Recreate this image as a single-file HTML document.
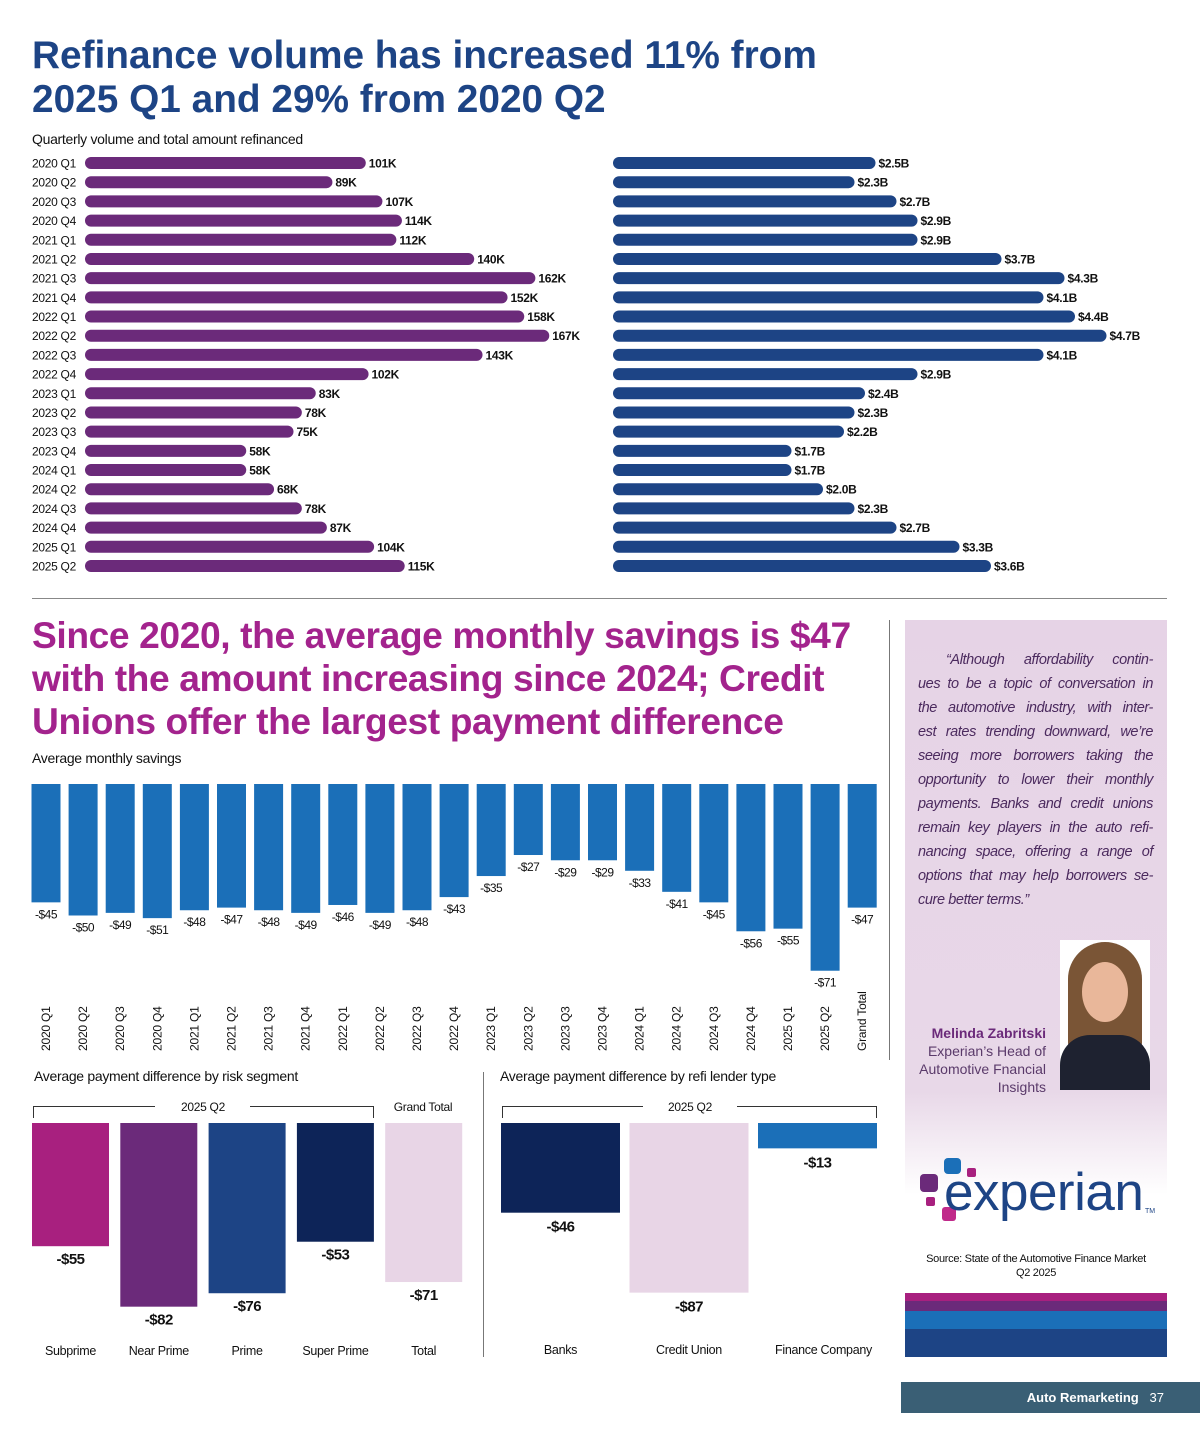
<!DOCTYPE html>
<html><head><meta charset="utf-8">
<style>
html,body{margin:0;padding:0;background:#fff;}
body{width:1200px;height:1438px;position:relative;overflow:hidden;font-family:"Liberation Sans",sans-serif;}
.abs{position:absolute;}
h1{margin:0;position:absolute;font-weight:bold;}
.ql{text-align:justify;text-align-last:justify;height:24px;white-space:nowrap;}
</style></head><body>
<h1 style="left:32px;top:34px;font-size:38.8px;line-height:44px;color:#1d4485;letter-spacing:0px">Refinance volume has increased 11% from<br>2025 Q1 and 29% from 2020 Q2</h1>
<div class="abs" style="left:32px;top:131px;font-size:14px;color:#111;letter-spacing:-0.3px">Quarterly volume and total amount refinanced</div>
<div class="abs" style="left:32px;top:598px;width:1135px;height:1px;background:#888"></div>
<h1 style="left:32px;top:614px;font-size:37.2px;line-height:43px;color:#a3238d;letter-spacing:-0.4px">Since 2020, the average monthly savings is $47<br>with the amount increasing since 2024; Credit<br>Unions offer the largest payment difference</h1>
<div class="abs" style="left:889px;top:620px;width:1px;height:440px;background:#777"></div>
<div class="abs" style="left:32px;top:750px;font-size:14px;color:#111;letter-spacing:-0.3px">Average monthly savings</div>
<div class="abs" style="left:34px;top:1068px;font-size:14px;color:#111;letter-spacing:-0.3px">Average payment difference by risk segment</div>
<div class="abs" style="left:500px;top:1068px;font-size:14px;color:#111;letter-spacing:-0.3px">Average payment difference by refi lender type</div>
<div class="abs" style="left:483px;top:1072px;width:1px;height:285px;background:#777"></div>

<div class="abs" style="left:905px;top:620px;width:262px;height:737px;background:linear-gradient(#e6d3e6 0%,#e8d8e8 64%,#fff 78%,#fff 100%);"></div>
<div class="abs" style="left:918px;top:648px;width:235px;font-size:14.5px;line-height:24px;font-style:italic;color:#4b2a5e;letter-spacing:-0.4px">
<div class="ql" style="padding-left:28px">“Although affordability contin-</div>
<div class="ql">ues to be a topic of conversation in</div>
<div class="ql">the automotive industry, with inter-</div>
<div class="ql">est rates trending downward, we’re</div>
<div class="ql">seeing more borrowers taking the</div>
<div class="ql">opportunity to lower their monthly</div>
<div class="ql">payments. Banks and credit unions</div>
<div class="ql">remain key players in the auto refi-</div>
<div class="ql">nancing space, offering a range of</div>
<div class="ql">options that may help borrowers se-</div>
<div style="height:24px">cure better terms.”</div>
</div>
<div class="abs" style="left:1060px;top:940px;width:90px;height:150px;background:#fff;overflow:hidden">
 <div style="position:absolute;left:8px;top:2px;width:74px;height:110px;border-radius:40px 40px 10px 10px;background:#7a5536"></div>
 <div style="position:absolute;left:22px;top:22px;width:46px;height:60px;border-radius:50%;background:#e9b79a"></div>
 <div style="position:absolute;left:0;top:95px;width:90px;height:60px;border-radius:30px 30px 0 0;background:#1e2230"></div>
</div>
<div class="abs" style="left:905px;top:1024px;width:141px;text-align:right;font-size:14px;line-height:18px;color:#5a3a6a;"><b style="color:#6b2a7a">Melinda Zabritski</b><br>Experian’s Head of Automotive Fnancial Insights</div>
<div class="abs" style="left:918px;top:1158px;width:240px;height:70px;">
 <div style="position:absolute;left:26px;top:0;width:17px;height:16px;border-radius:4px;background:#1b6fb8"></div>
 <div style="position:absolute;left:49px;top:10px;width:9px;height:9px;border-radius:2px;background:#a8207f"></div>
 <div style="position:absolute;left:2px;top:16px;width:18px;height:18px;border-radius:4px;background:#6b2a7a"></div>
 <div style="position:absolute;left:8px;top:39px;width:9px;height:9px;border-radius:2px;background:#a8207f"></div>
 <div style="position:absolute;left:24px;top:49px;width:14px;height:14px;border-radius:3px;background:#c02a8a"></div>
 <div style="position:absolute;left:26px;top:8px;font-size:53px;line-height:53px;color:#1d4485;letter-spacing:-0.5px">experian</div>
 <div style="position:absolute;left:227px;top:50px;font-size:7px;color:#1d4485">TM</div>
</div>
<div class="abs" style="left:905px;top:1252px;width:262px;text-align:center;font-size:11px;line-height:14px;color:#111;letter-spacing:-0.3px">Source: State of the Automotive Finance Market<br>Q2 2025</div>
<div class="abs" style="left:905px;top:1293px;width:262px;height:64px;background:linear-gradient(#a8207f 0 8px,#6b2a7a 8px 18px,#1b6fb8 18px 36px,#1d4485 36px 64px)"></div>
<div class="abs" style="left:901px;top:1382px;width:299px;height:31px;background:#3a5f75;color:#fff;font-size:13px;line-height:31px;text-align:right;font-weight:bold;box-sizing:border-box;padding-right:36px">Auto Remarketing &nbsp;&nbsp;<span style="font-weight:normal">37</span></div>

<svg id="chart" class="abs" style="left:0;top:0" width="1200" height="1438"></svg>

<script>
const quarters = ["2020 Q1","2020 Q2","2020 Q3","2020 Q4","2021 Q1","2021 Q2","2021 Q3","2021 Q4","2022 Q1","2022 Q2","2022 Q3","2022 Q4","2023 Q1","2023 Q2","2023 Q3","2023 Q4","2024 Q1","2024 Q2","2024 Q3","2024 Q4","2025 Q1","2025 Q2"];
const volumeK = [101,89,107,114,112,140,162,152,158,167,143,102,83,78,75,58,58,68,78,87,104,115];
const amountB = [2.5,2.3,2.7,2.9,2.9,3.7,4.3,4.1,4.4,4.7,4.1,2.9,2.4,2.3,2.2,1.7,1.7,2.0,2.3,2.7,3.3,3.6];
const savingsCats = quarters.concat(["Grand Total"]);
const savings = [45,50,49,51,48,47,48,49,46,49,48,43,35,27,29,29,33,41,45,56,55,71,47];
const riskCats = ["Subprime","Near Prime","Prime","Super Prime","Total"];
const riskVals = [55,82,76,53,71];
const lenderCats = ["Banks","Credit Union","Finance Company"];
const lenderVals = [46,87,13];

const svg = document.getElementById('chart');
const NS = 'http://www.w3.org/2000/svg';
function mk(tag, attrs, parent){const e=document.createElementNS(NS,tag);for(const k in attrs)e.setAttribute(k,attrs[k]);(parent||svg).appendChild(e);return e;}
function txt(x,y,s,attrs){const t=mk('text',Object.assign({x:x,y:y,'font-family':'Liberation Sans, sans-serif','font-size':12,fill:'#111'},attrs||{}));t.textContent=s;return t;}

const rowY = i => 163 + i*19.19;
const xVol = v => 85 + v*2.78;
const xAmt = v => 613 + v*105;
quarters.forEach((q,i)=>{
  const y=rowY(i);
  const l=txt(32,y+4.5,q,{'font-size':12,'letter-spacing':'-0.3'});
  
  
  const b=mk('rect',{x:85,y:y-6,width:xVol(volumeK[i])-85,height:12,rx:6,fill:'#6b2a7a'});
  
  
  const v=txt(xVol(volumeK[i])+3,y+4.5,volumeK[i]+'K',{'font-weight':'bold','letter-spacing':'-0.3'});
  
  
  const b2=mk('rect',{x:613,y:y-6,width:xAmt(amountB[i])-613,height:12,rx:6,fill:'#1d4485'});
  
  
  const v2=txt(xAmt(amountB[i])+3,y+4.5,'$'+amountB[i].toFixed(1)+'B',{'font-weight':'bold','letter-spacing':'-0.3'});
  
  
});

const colX = i => 46 + i*37.1;
const colH = v => v*2.63;
savingsCats.forEach((c,i)=>{
  const x=colX(i), h=colH(savings[i]);
  const b=mk('rect',{x:x-14.5,y:784,width:29,height:h,fill:'#1b6fb8'});
  
  
  const v=txt(x,784+h+16,'-$'+savings[i],{'text-anchor':'middle','letter-spacing':'-0.5'});
  
  
  const l=txt(0,0,c,{'text-anchor':'start','transform':'translate('+(x+4)+',1051) rotate(-90)','letter-spacing':'-0.2'});
  
  
});

const riskColors=['#a8207f','#6b2a7a','#1d4485','#0d2458','#e8d5e6'];
const riskX = i => 32 + i*88.3;
const riskH = v => v*2.24;
riskCats.forEach((c,i)=>{
  const x=riskX(i), h=riskH(riskVals[i]);
  const b=mk('rect',{x:x,y:1123,width:77,height:h,fill:riskColors[i]});
  
  
  const v=txt(x+38.5,1123+h+18,'-$'+riskVals[i],{'text-anchor':'middle','font-weight':'bold','font-size':15,'letter-spacing':'-0.5'});
  
  
  const l=txt(x+38.5,1355,c,{'text-anchor':'middle','font-size':12.5,'letter-spacing':'-0.3'});
  
  
});
mk('path',{d:'M33.5 1118 V1106.5 H155 M250 1106.5 H373.5 V1118',stroke:'#333',fill:'none','stroke-width':1});
txt(203,1111,'2025 Q2',{'text-anchor':'middle','letter-spacing':'-0.3'});
txt(423,1111,'Grand Total',{'text-anchor':'middle','letter-spacing':'-0.3'});

const lenderColors=['#0d2458','#e8d5e6','#1b6fb8'];
const lenderX = i => 501 + i*128.5;
const lenderH = v => v*1.95;
lenderCats.forEach((c,i)=>{
  const x=lenderX(i), h=lenderH(lenderVals[i]);
  const b=mk('rect',{x:x,y:1123,width:119,height:h,fill:lenderColors[i]});
  
  
  const v=txt(x+59.5,1123+h+19,'-$'+lenderVals[i],{'text-anchor':'middle','font-weight':'bold','font-size':15,'letter-spacing':'-0.5'});
  
  
  const l=txt(x+59.5+(i==2?6:0),1354,c,{'text-anchor':'middle','font-size':12.5,'letter-spacing':'-0.3'});
  
  
});
mk('path',{d:'M502.5 1118 V1106.5 H643 M737 1106.5 H876.5 V1118',stroke:'#333',fill:'none','stroke-width':1});
txt(690,1111,'2025 Q2',{'text-anchor':'middle','letter-spacing':'-0.3'});
</script>
</body></html>
